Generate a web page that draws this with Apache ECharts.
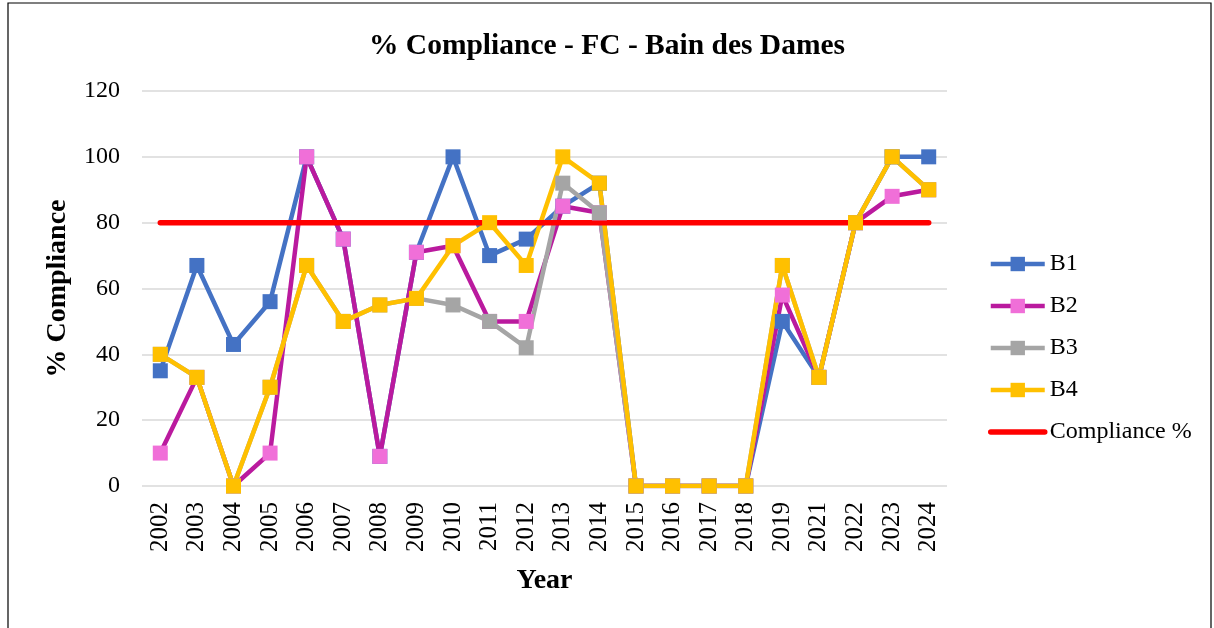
<!DOCTYPE html>
<html>
<head>
<meta charset="utf-8">
<script src="https://cdn.jsdelivr.net/npm/echarts@6/dist/echarts.min.js"></script>
<style>
  html, body { margin: 0; padding: 0; background: #fff; }
  #chart { width: 1214px; height: 628px; }
</style>
</head>
<body>
<div id="chart"></div>
<script>
(function() {
  var years = ['2002', '2003', '2004', '2005', '2006', '2007', '2008', '2009', '2010', '2011', '2012',
               '2013', '2014', '2015', '2016', '2017', '2018', '2019', '2021', '2022', '2023', '2024'];
  var b1 = [35, 67, 43, 56, 100, 75, 9, 71, 100, 70, 75, 85, 92, 0, 0, 0, 0, 50, 33, 80, 100, 100];
  var b2 = [10, 33, 0, 10, 100, 75, 9, 71, 73, 50, 50, 85, 83, 0, 0, 0, 0, 58, 33, 80, 88, 90];
  var b3 = [40, 33, 0, 30, 67, 50, 55, 57, 55, 50, 42, 92, 83, 0, 0, 0, 0, 67, 33, 80, 100, 90];
  var b4 = [40, 33, 0, 30, 67, 50, 55, 57, 73, 80, 67, 100, 92, 0, 0, 0, 0, 67, 33, 80, 100, 90];
  var compliance = years.map(function() { return 80; });
  var yTicks = [0, 20, 40, 60, 80, 100, 120];

  var serif = '"Liberation Serif", "Times New Roman", serif';
  var ink = '#000000';
  var grid = '#D9D9D9';

  function bSeries(name, data, lineColor, markColor) {
    return {
      name: name,
      type: 'line',
      data: data,
      symbol: 'rect',
      symbolSize: 15,
      lineStyle: { color: lineColor, width: 4.5 },
      itemStyle: { color: markColor, borderColor: markColor, borderWidth: 0 }
    };
  }

  var chart = echarts.init(document.getElementById('chart'), null, { renderer: 'canvas' });
  chart.setOption({
    animation: false,
    backgroundColor: '#ffffff',
    title: {
      text: '% Compliance - FC - Bain des Dames',
      left: 'center',
      top: 26,
      textStyle: { fontFamily: serif, fontSize: 29.5, fontWeight: 'bold', color: ink }
    },
    legend: {
      orient: 'vertical',
      left: 988,
      top: 252,
      padding: 0,
      itemWidth: 54,
      itemHeight: 18,
      itemGap: 18,
      lineStyle: { width: 4.5 },
      textStyle: { fontFamily: serif, fontSize: 24, color: ink },
      data: ['B1', 'B2', 'B3', 'B4',
        { name: 'Compliance %', itemStyle: { opacity: 0 }, lineStyle: { width: 5.5 } }]
    },
    grid: { left: 142, right: 267, top: 91, bottom: 142, containLabel: false },
    xAxis: {
      type: 'category',
      data: years,
      boundaryGap: true,
      name: 'Year',
      nameLocation: 'middle',
      nameGap: 81,
      nameTextStyle: { fontFamily: serif, fontSize: 28, fontWeight: 'bold', color: ink },
      axisLine: { show: false },
      axisTick: { show: false },
      axisLabel: { rotate: 90, margin: 16, fontFamily: serif, fontSize: 25, color: ink, interval: 0 }
    },
    yAxis: {
      type: 'value',
      min: yTicks[0],
      max: yTicks[yTicks.length - 1],
      interval: 20,
      name: '% Compliance',
      nameLocation: 'middle',
      nameGap: 70,
      nameRotate: 90,
      nameTextStyle: { fontFamily: serif, fontSize: 28, fontWeight: 'bold', color: ink },
      axisLine: { show: false },
      axisTick: { show: false },
      axisLabel: { margin: 22, fontFamily: serif, fontSize: 24, color: ink },
      splitLine: { lineStyle: { color: grid, width: 1.5 } }
    },
    series: [
      bSeries('B1', b1, '#4472C4', '#4472C4'),
      bSeries('B2', b2, '#BA1A9E', '#F06FD8'),
      bSeries('B3', b3, '#A5A5A5', '#A5A5A5'),
      bSeries('B4', b4, '#FFC000', '#FFC000'),
      {
        name: 'Compliance %',
        type: 'line',
        data: compliance,
        symbol: 'none',
        lineStyle: { color: '#FF0000', width: 5.5, cap: 'round' },
        itemStyle: { color: '#FF0000' }
      }
    ],
    graphic: [{
      type: 'rect',
      shape: { x: 8, y: 3, width: 1203, height: 700 },
      style: { fill: 'none', stroke: '#000', lineWidth: 1.2 },
      silent: true
    }]
  });
  window.addEventListener('resize', function() { chart.resize(); });
})();
</script>
</body>
</html>
